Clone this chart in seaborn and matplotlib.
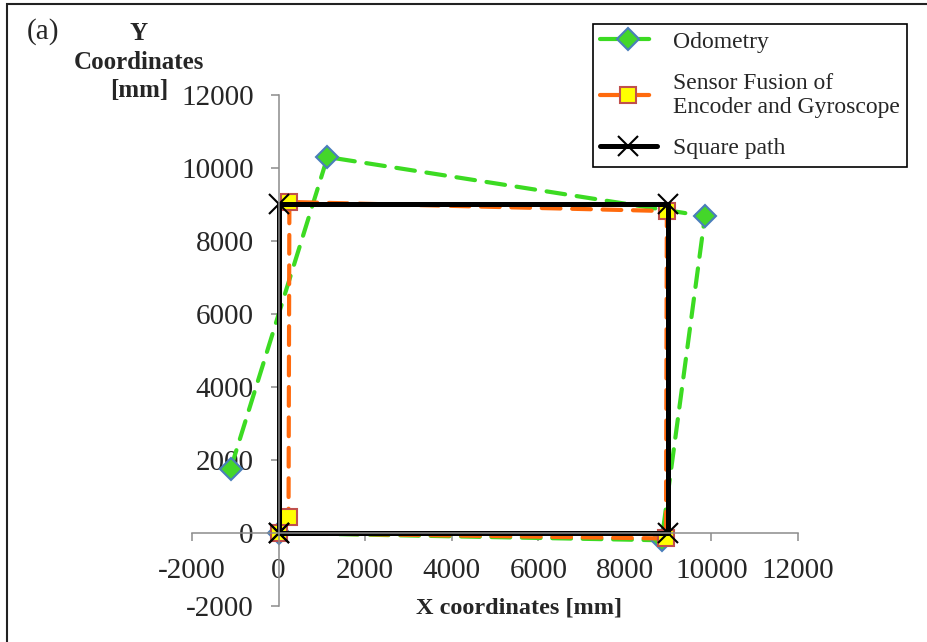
import numpy as np
import pandas as pd
import seaborn as sns
import matplotlib.pyplot as plt
from matplotlib.patches import Rectangle

# values (mm)
odo_x = [0, 8850, 9850, 1130, -1110]
odo_y = [0, -200, 8680, 10300, 1750]
fusion_x = [0, 8950, 8970, 250, 230]
fusion_y = [0, -150, 8820, 9070, 440]
square_x = [0, 9000, 9000, 0, 0]
square_y = [0, 0, 9000, 9000, 0]
ticks = [-2000, 0, 2000, 4000, 6000, 8000, 10000, 12000]

sns.set_theme(style="white")
plt.rcParams["font.family"] = ["Liberation Serif", "DejaVu Serif"]
plt.rcParams["axes.unicode_minus"] = False

fig = plt.figure(figsize=(9.27, 6.42), dpi=100)
ax = fig.add_axes([192 / 927, 36 / 642, 606 / 927, 511 / 642])

green = "#3cdb22"
orange = "#ff6a0d"

sns.lineplot(x=odo_x, y=odo_y, sort=False, estimator=None, ax=ax,
             color=green, lw=3, linestyle=(0, (4.5, 2.8)), dash_capstyle="round",
             marker="D", ms=11, mfc="#44d62a", mec="#4a7ebb", mew=1.5,
             label="Odometry")
sns.lineplot(x=fusion_x, y=fusion_y, sort=False, estimator=None, ax=ax,
             color=orange, lw=3, linestyle=(0, (4.5, 2.8)), dash_capstyle="round",
             marker="s", ms=11, mfc="#ffff00", mec="#c0504d", mew=1.5,
             label="Sensor Fusion of\nEncoder and Gyroscope")
sns.lineplot(x=square_x, y=square_y, sort=False, estimator=None, ax=ax,
             color="black", lw=3.6, marker="x", ms=15, mec="black", mew=1.5,
             label="Square path")

ax.set_xlim(-2000, 12000)
ax.set_ylim(-2000, 12000)
ax.set_xticks(ticks)
ax.set_yticks(ticks)

# Excel-like axes crossing at zero
ax.spines["left"].set_position(("data", 0))
ax.spines["bottom"].set_position(("data", 0))
ax.spines["top"].set_visible(False)
ax.spines["right"].set_visible(False)
for s in ["left", "bottom"]:
    ax.spines[s].set_color("#8c8c8c")
    ax.spines[s].set_linewidth(1.1)
ax.tick_params(axis="both", direction="out", length=6, width=1.1, color="#8c8c8c",
               labelsize=21, pad=12, left=True, bottom=True)

ax.set_xlabel("X coordinates [mm]", fontsize=17.5, fontweight="bold")
ax.xaxis.set_label_coords(0.54, -0.004)
ax.xaxis.label.set_va("center")
# y title is wrapped over three lines, last line sits beside the 12000 label
ax.set_ylabel("Y\nCoordinates", fontsize=18, fontweight="bold",
              rotation=0, ha="center", va="center", linespacing=1.35)
ax.yaxis.set_label_coords(-0.088, 1.092)
fig.text(139 / 927, 1 - 91 / 642, "[mm]", fontsize=18, fontweight="bold",
         ha="center", va="center")

handles, labels = ax.get_legend_handles_labels()
leg = ax.legend(handles, labels, loc="upper left",
                bbox_to_anchor=(593 / 927, 1 - 24 / 642), bbox_transform=fig.transFigure,
                borderaxespad=0, fontsize=17, frameon=True, fancybox=False,
                edgecolor="black", framealpha=1, borderpad=0.3, handlelength=2.4,
                handletextpad=0.7, labelspacing=0.85)
leg.get_frame().set_linewidth(1.2)

fig.text(27 / 927, 1 - 32 / 642, "(a)", fontsize=21, va="center", ha="left")

# outer frame of the figure
fig.patches.append(Rectangle((7 / 927, -0.1), 2, 1.1 - 4 / 642, transform=fig.transFigure,
                             fill=False, edgecolor="#222222", lw=1.5))

fig.savefig("out.png", dpi=100)
